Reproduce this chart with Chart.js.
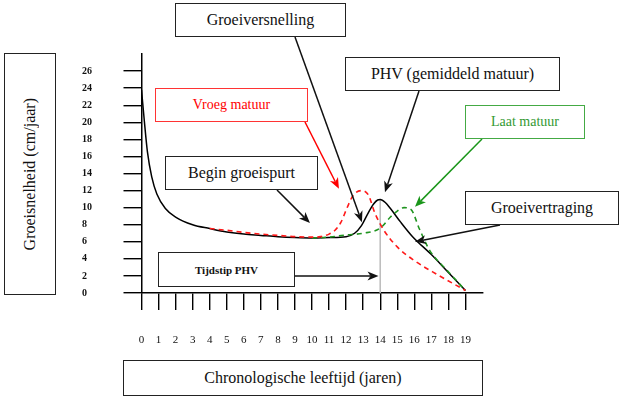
<!DOCTYPE html>
<html>
<head>
<meta charset="utf-8">
<script src="https://cdn.jsdelivr.net/npm/chart.js@4/dist/chart.umd.min.js"></script>
<style>
  body { margin: 0; background: #fff; }
  #wrap { position: relative; width: 622px; height: 398px; }
  .box {
    position: absolute; box-sizing: border-box; background: #fff;
    border: 1.5px solid #222; display: flex; align-items: center; justify-content: center;
    font-family: "Times New Roman", "Liberation Serif", "DejaVu Serif", serif;
    font-size: 16px; color: #111; white-space: nowrap;
  }
  .vert { writing-mode: vertical-rl; transform: rotate(180deg); }
</style>
</head>
<body>
<div id="wrap">
  <canvas id="growth-chart"></canvas>
  <div class="box" style="left:4px;top:53px;width:52px;height:242px;"><span class="vert">Groeisnelheid (cm/jaar)</span></div>
  <div class="box" style="left:123px;top:360px;width:360px;height:36px;">Chronologische leeftijd (jaren)</div>
  <div class="box" style="left:175px;top:3px;width:171px;height:34px;">Groeiversnelling</div>
  <div class="box" style="left:345px;top:57px;width:215px;height:34px;">PHV (gemiddeld matuur)</div>
  <div class="box" style="left:155px;top:88px;width:153px;height:34px;border-color:#f33;color:#f00;font-size:14px;">Vroeg matuur</div>
  <div class="box" style="left:165px;top:156px;width:153px;height:34px;">Begin groeispurt</div>
  <div class="box" style="left:465px;top:105px;width:120px;height:34px;border-color:#4a4;color:#393;font-size:14px;">Laat matuur</div>
  <div class="box" style="left:465px;top:191px;width:154px;height:34px;">Groeivertraging</div>
  <div class="box" style="left:158px;top:252px;width:137px;height:35px;font-size:11px;font-weight:bold;">Tijdstip PHV</div>
</div>
<script>
// leeftijd (jaren) en groeisnelheid (cm/jaar)
const gemiddeldX = [0, 0.15, 0.35, 0.6, 0.9, 1.4, 2, 3, 4, 5, 6, 7, 8, 9, 10, 11, 12, 12.5, 12.9, 13.3, 13.6, 13.85, 14, 14.3, 14.6, 15.2, 15.9, 17, 18, 19];
const gemiddeldY = [23.8, 20.5, 16.5, 13.6, 11.6, 9.9, 8.9, 8.0, 7.55, 7.15, 6.9, 6.75, 6.6, 6.5, 6.45, 6.5, 6.6, 7.0, 7.9, 9.4, 10.4, 10.9, 10.95, 10.6, 9.9, 8.3, 6.6, 4.5, 2.4, 0.3];

const vroegX = [4, 5, 6, 7, 8, 9, 10, 10.5, 11, 11.35, 11.7, 12.04, 12.4, 12.9, 13.3, 13.7, 14.2, 15, 16, 17.4, 19];
const vroegY = [7.55, 7.35, 7.1, 6.9, 6.75, 6.6, 6.55, 6.6, 6.9, 7.35, 8.3, 9.9, 11.4, 12.0, 11.5, 9.3, 7.4, 5.4, 3.8, 2.1, 0.3];

const laatX = [10, 11, 12, 13, 14, 14.6, 15, 15.4, 15.8, 16.3, 16.9, 17.9, 19];
const laatY = [6.45, 6.55, 6.8, 7.0, 7.6, 8.9, 9.6, 10.0, 9.8, 7.5, 5.0, 2.7, 0.3];

const phvLeeftijd = 14;
const phvWaarde = 10.95;

const leeftijdTicks = [0, 1, 2, 3, 4, 5, 6, 7, 8, 9, 10, 11, 12, 13, 14, 15, 16, 17, 18, 19];
const snelheidTicks = [0, 2, 4, 6, 8, 10, 12, 14, 16, 18, 20, 22, 24, 26];

function toPoints(xs, ys) {
    return xs.map((x, i) => ({ x: x, y: ys[i] }));
}

// pijlen: start in pixels (rand van het kader), punt in data-eenheden
const arrows = [
    { from: [295, 37], to: { x: 12.93, y: 8.3 }, color: '#111' },
    { from: [419, 91], to: { x: 14.28, y: 11.8 }, color: '#111' },
    { from: [305, 122], to: { x: 11.58, y: 12.2 }, color: '#f00' },
    { from: [277, 190], to: { x: 9.88, y: 8.2 }, color: '#111' },
    { from: [482, 139], to: { x: 16.04, y: 10.1 }, color: '#1a961a' },
    { from: [500, 225], to: { x: 16.04, y: 6.0 }, color: '#111' },
    { from: [295, 276], to: { x: 13.9, y: 2.0 }, color: '#111' }
];

const arrowPlugin = {
    id: 'arrows',
    afterDatasetsDraw(chart) {
        const ctx = chart.ctx;
        const xs = chart.scales.x, ys = chart.scales.y;
        arrows.forEach(a => {
            const x0 = a.from[0], y0 = a.from[1];
            const x1 = xs.getPixelForValue(a.to.x), y1 = ys.getPixelForValue(a.to.y);
            const ang = Math.atan2(y1 - y0, x1 - x0);
            const len = 11, half = 4.5, notch = 3;
            ctx.save();
            ctx.strokeStyle = a.color;
            ctx.fillStyle = a.color;
            ctx.lineWidth = 1.5;
            ctx.beginPath();
            ctx.moveTo(x0, y0);
            ctx.lineTo(x1 - Math.cos(ang) * (len - notch), y1 - Math.sin(ang) * (len - notch));
            ctx.stroke();
            const bx = x1 - Math.cos(ang) * len, by = y1 - Math.sin(ang) * len;
            const nx = -Math.sin(ang) * half, ny = Math.cos(ang) * half;
            ctx.beginPath();
            ctx.moveTo(x1, y1);
            ctx.lineTo(bx + nx, by + ny);
            ctx.lineTo(x1 - Math.cos(ang) * (len - notch), y1 - Math.sin(ang) * (len - notch));
            ctx.lineTo(bx - nx, by - ny);
            ctx.closePath();
            ctx.fill();
            ctx.restore();
        });
    }
};

const ctx = document.getElementById('growth-chart').getContext('2d');
const growthChart = new Chart(ctx, {
    type: 'line',
    data: {
        datasets: [{
            label: 'Vroeg matuur',
            data: toPoints(vroegX, vroegY),
            borderColor: '#ff1a1a',
            borderWidth: 1.6,
            borderDash: [5, 4],
            pointRadius: 0,
            cubicInterpolationMode: 'monotone'
        }, {
            label: 'Laat matuur',
            data: toPoints(laatX, laatY),
            borderColor: '#1f941f',
            borderWidth: 1.6,
            borderDash: [5, 4],
            pointRadius: 0,
            cubicInterpolationMode: 'monotone'
        }, {
            label: 'Gemiddeld matuur',
            data: toPoints(gemiddeldX, gemiddeldY),
            borderColor: '#000',
            borderWidth: 1.5,
            pointRadius: 0,
            cubicInterpolationMode: 'monotone'
        }, {
            label: 'PHV',
            data: [{ x: phvLeeftijd, y: 0 }, { x: phvLeeftijd, y: phvWaarde }],
            borderColor: '#bbb',
            borderWidth: 1.5,
            pointRadius: 0
        }]
    },
    options: {
        responsive: true,
        maintainAspectRatio: false,
        animation: false,
        layout: {
            padding: { left: 82, top: 54, right: 139.5, bottom: 50.8 }
        },
        plugins: {
            legend: { display: false },
            tooltip: { enabled: false }
        },
        scales: {
            x: {
                type: 'linear',
                min: 0,
                max: 20,
                afterBuildTicks: scale => {
                    scale.ticks = leeftijdTicks.map(v => ({ value: v }));
                },
                afterFit: scale => { scale.height = 54.2; },
                grid: { drawOnChartArea: false, tickLength: 17, color: '#000', lineWidth: 1.4 },
                border: { color: '#000', width: 1.5 },
                ticks: {
                    padding: 24,
                    color: '#111',
                    maxRotation: 0,
                    autoSkip: false,
                    font: { family: '"Times New Roman", "Liberation Serif", serif', size: 11 }
                }
            },
            y: {
                min: 0,
                max: 28,
                afterBuildTicks: scale => {
                    scale.ticks = snelheidTicks.map(v => ({ value: v }));
                },
                afterFit: scale => { scale.width = 59.5; },
                grid: { drawOnChartArea: false, tickLength: 18, color: '#000', lineWidth: 1.4 },
                border: { color: '#000', width: 1.5 },
                ticks: {
                    crossAlign: 'far',
                    color: '#111',
                    autoSkip: false,
                    font: { family: '"Times New Roman", "Liberation Serif", serif', size: 10, weight: 'bold' }
                }
            }
        }
    },
    plugins: [arrowPlugin]
});
</script>
</body>
</html>
